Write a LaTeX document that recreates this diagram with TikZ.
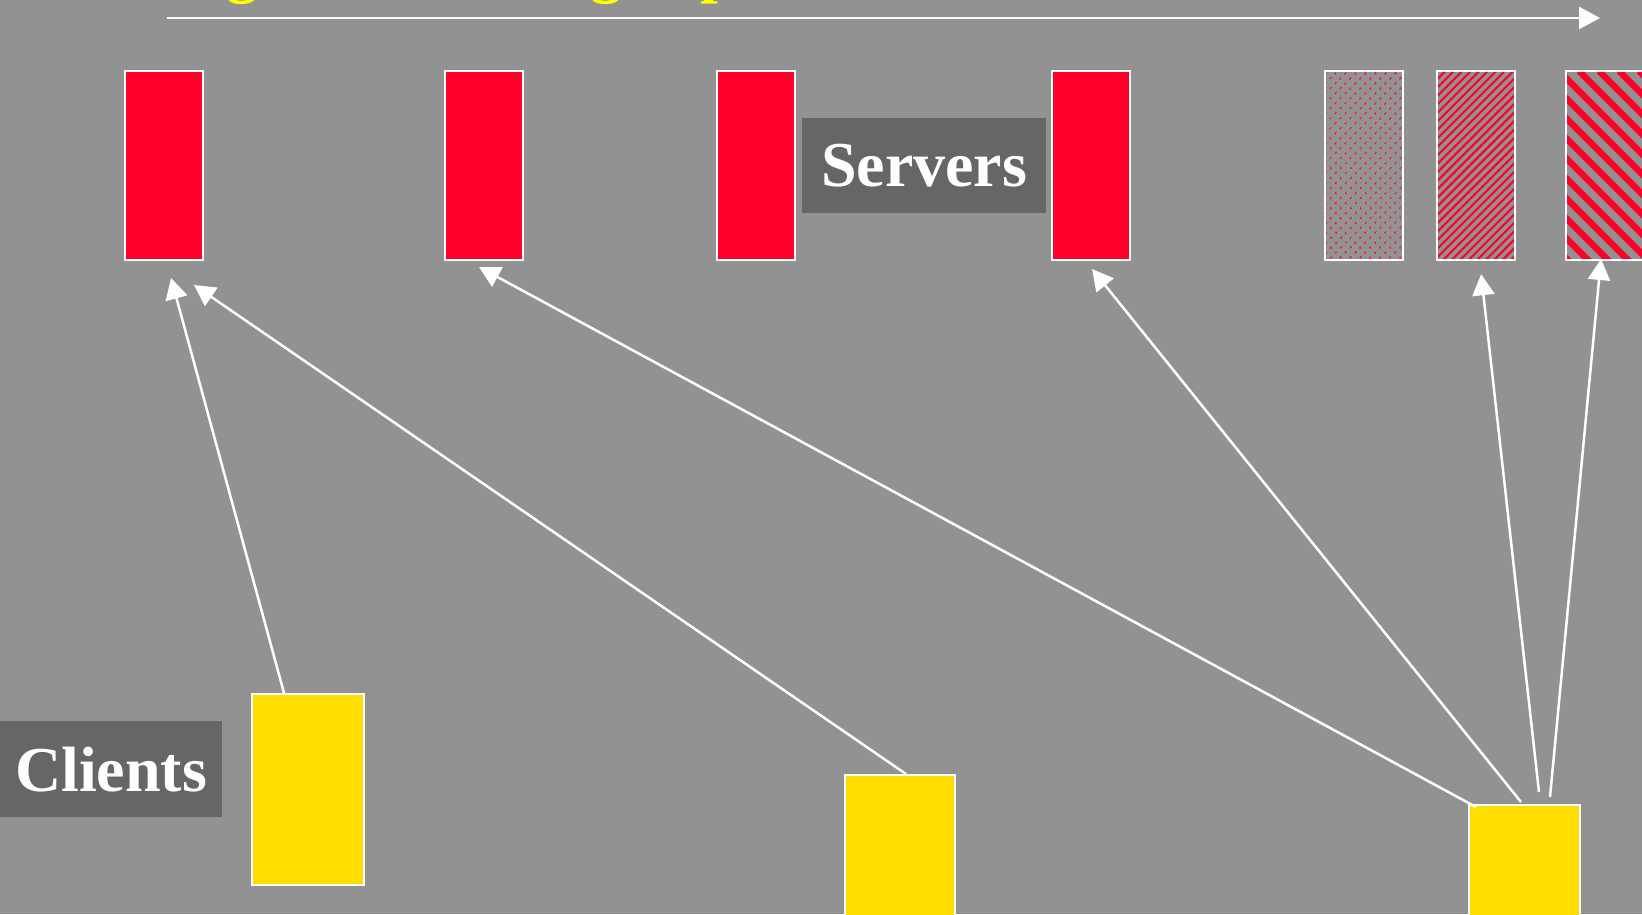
\documentclass[tikz,border=0pt]{standalone}
\usepackage{fontspec}
\setmainfont{Liberation Serif}
\usetikzlibrary{arrows.meta,patterns.meta,calc}
\definecolor{bg}{RGB}{146,146,146}
\definecolor{lbl}{RGB}{102,102,102}
\definecolor{srv}{RGB}{255,0,41}
\definecolor{cli}{RGB}{255,221,0}
\definecolor{ttl}{RGB}{255,255,0}
\begin{document}
\begin{tikzpicture}[x=1pt,y=-1pt,
  box/.style={draw=white,line width=2pt,inner sep=0pt,anchor=north west},
  server/.style={box,fill=srv,minimum width=78pt,minimum height=189pt},
  pserver/.style={box,minimum width=78pt,minimum height=189pt,pattern color=srv},
  client/.style={box,fill=cli,minimum height=191pt},
  label/.style={fill=lbl,text=white,inner sep=0pt,anchor=north west,
    font=\fontsize{64}{64}\selectfont\bfseries},
  conn/.style={draw=white,line width=2.5pt,-{Triangle[length=21pt,width=22pt]}},
  frag/.style={text=ttl,inner sep=0pt,anchor=base west,
    font=\fontsize{64}{64}\selectfont\bfseries},
  wide stripes/.style={path picture={
    \foreach \i in {-11,...,5}
      \draw[srv,line width=6.5pt]
        ($(path picture bounding box.north west)+(\i*20-7,0)$) -- ++(260,260);
  }}
]
\fill[bg] (0,0) rectangle (1642,914);
\useasboundingbox (0,0) rectangle (1642,914);

% fragments of the cut-off title
\node[frag] (f1) at (226,-10) {g};
\node[frag] (f2) at (590,-10) {g};
\node[frag] (f3) at (700,-10) {p};

% top arrow
\coordinate (ta) at (167,18);
\coordinate (tb) at (1600,18);
\draw[conn] (ta) -- (tb);

% servers
\node[server] (s1) at (124,70) {};
\node[server] (s2) at (444,70) {};
\node[server] (s3) at (716,70) {};
\node[server] (s4) at (1051,70) {};
\node[pserver,pattern={Dots[angle=45,distance=7.4pt,radius=1.5pt]}] (s5) at (1324,70) {};
\node[pserver,pattern={Lines[angle=45,distance=6pt,line width=2.2pt]}] (s6) at (1436,70) {};
\node[box,minimum width=78pt,minimum height=189pt,wide stripes] (s7) at (1565,70) {};

% labels
\node[label,minimum width=244pt,minimum height=95pt] (ls) at (802,118) {Servers};
\node[label,minimum width=222pt,minimum height=96pt] (lc) at (0,721) {Clients};

% clients
\node[client,minimum width=112pt] (c1) at (251,693) {};
\node[client,minimum width=110pt] (c2) at (844,774) {};
\node[client,minimum width=111pt] (c3) at (1468,804) {};

% connectors
\draw[conn] ($(c1.north west)+(33,0)$) -- ($(s1.south)+(7,17)$);
\draw[conn] ($(c2.north west)+(62,0)$) -- ($(s1.south)+(30,24)$);
\draw[conn] ($(c3.north west)+(8,3)$) -- ($(s2.south)+(-5,6)$);
\draw[conn] ($(c3.north west)+(53,-2)$) -- ($(s4.south)+(1,8)$);
\draw[conn] ($(c3.north west)+(71,-12)$) -- ($(s6.south)+(5,13)$);
\draw[conn] ($(c3.north west)+(82,-7)$) -- ($(s7.south)+(-4,-2)$);
\end{tikzpicture}
\end{document}
